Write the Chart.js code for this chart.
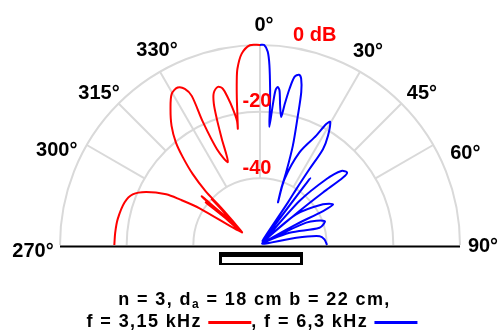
<!DOCTYPE html>
<html>
<head>
<meta charset="utf-8">
<script src="https://cdn.jsdelivr.net/npm/chart.js@4.4.0/dist/chart.umd.min.js"></script>
<style>
  html, body { margin: 0; padding: 0; background: #fff; }
  #wrap { position: relative; width: 501px; height: 330px; }
</style>
</head>
<body>
<div id="wrap"><canvas id="polar" width="501" height="330"></canvas></div>
<script>
// 3.15 kHz pattern, left half (0 -> 270 deg), level in dB
const redAngle = [0, 357.1, 354.5, 352.7, 351.9, 351.0, 350.2, 349.2, 349.5, 348.7,
  347.7, 346.6, 345.1, 343.1, 341.9, 341.1, 340.2, 338.8, 335.8, 335.1,
  335.4, 334.3, 332.4, 329.7, 326.7, 323.4, 320.7, 318.7, 316.5, 314.7,
  313.9, 304.8, 309.9, 310.0, 313.5, 309.1, 308.2, 304.8, 301.3, 299.6,
  298.4, 295.0, 291.7, 287.4, 280.2, 274.8, 270.0];
const redLevel = [0, 0, -2.4, -6.7, -10.5, -15.6, -20.1, -24.5, -22.1, -18.3,
  -14.8, -11.8, -10.9, -12.3, -15.4, -20.0, -26.2, -33.3, -28.4, -19.3,
  -10.8, -8.0, -6.7, -7.5, -11.1, -15.5, -20.1, -24.9, -30.7, -37.1,
  -43.3, -53.4, -37.2, -49.0, -40.1, -50.7, -39.3, -53.4, -38.8, -32.3,
  -28.0, -22.3, -18.9, -17.4, -16.6, -16.4, -16.3];

// 6.3 kHz pattern, right half (0 -> 90 deg)
const blueAngle = [0, 1.2, 2.3, 3.0, 3.7, 4.1, 4.5, 5.2, 5.7, 6.4,
  7.2, 8.2, 9.4, 9.9, 10.7, 11.6, 12.9, 13.9, 15.1, 16.3,
  18.3, 19.8, 20.7, 22.9, 20.4, 23.1, 27.2, 28.7, 29.7, 31.9,
  33.3, 33.1, 33.0, 33.3, 32.3, 36.9, 40.0, 41.9, 45.2, 47.7,
  50.2, 50.9, 50.2, 49.3, 46.6, 49.7, 57.1, 60.9, 61.7, 60.3,
  55.0, 64.2, 69.7, 73.8, 67.4, 63.0, 78.7, 81.6, 85.1, 90.0];
const blueLevel = [0, 0, -2.0, -6.0, -13.0, -18.0, -24.5, -18.0, -13.4, -12.3,
  -13.3, -17.7, -21.1, -17.5, -12.3, -8.5, -7.6, -8.6, -12.5, -19.5,
  -28.6, -36.9, -42.1, -46.1, -38.9, -29.8, -23.1, -18.6, -17.5, -21.4,
  -25.6, -32.8, -40.0, -44.8, -58.5, -34.9, -58.5, -42.3, -32.0, -27.0,
  -26.0, -27.9, -35.4, -44.4, -58.8, -45.8, -37.5, -34.9, -38.5, -47.5,
  -59.2, -44.6, -39.3, -41.4, -50.4, -59.2, -48.9, -41.9, -40.6, -39.9];

const ringLevels = [0, -20, -40];
const ringLabels = ['0 dB', '-20', '-40'];
const spokeAngles = [300, 315, 330, 0, 30, 45, 60];
const spokeInner = [-20, -20, -40, -40, -40, -20, -20];
const angleTicks = [270, 300, 315, 330, 0, 30, 45, 60, 90];
const angleLabels = ['270°', '300°', '315°', '330°', '0°', '30°', '45°', '60°', '90°'];
const floorDb = -60;

const W = 501, H = 330;
const CX = 260, CY = 245, R = 200;   // pixel centre and 0 dB radius
const unit = R / (0 - floorDb);       // px per dB

function toXY(angle, level) {
  const r = Math.max(level, floorDb) - floorDb;
  const a = angle * Math.PI / 180;
  return { x: r * Math.sin(a), y: r * Math.cos(a) };
}

function curve(angles, levels) {
  return angles.map((a, i) => toXY(a, levels[i]));
}

const FONT = '"Liberation Sans", Arial, Helvetica, sans-serif';

const polarGrid = {
  id: 'polarGrid',
  beforeDatasetsDraw(chart) {
    const { ctx, scales: { x, y } } = chart;
    const cx = x.getPixelForValue(0), cy = y.getPixelForValue(0);
    const rad = lv => x.getPixelForValue(lv - floorDb) - cx;
    ctx.save();
    ctx.strokeStyle = '#d9d9d9';
    ctx.lineWidth = 2;
    ringLevels.forEach(lv => {
      ctx.beginPath();
      ctx.arc(cx, cy, rad(lv), Math.PI, 2 * Math.PI);
      ctx.stroke();
    });
    spokeAngles.forEach((a, i) => {
      const p0 = toXY(a, spokeInner[i]), p1 = toXY(a, 0);
      ctx.beginPath();
      ctx.moveTo(x.getPixelForValue(p0.x), y.getPixelForValue(p0.y));
      ctx.lineTo(x.getPixelForValue(p1.x), y.getPixelForValue(p1.y));
      ctx.stroke();
    });
    ctx.restore();
  },
  afterDatasetsDraw(chart) {
    const { ctx, scales: { x, y } } = chart;
    const cx = x.getPixelForValue(0), cy = y.getPixelForValue(0);
    const r0 = x.getPixelForValue(-floorDb) - cx;
    ctx.save();
    // base line 270 .. 90
    ctx.strokeStyle = '#000';
    ctx.lineWidth = 2;
    ctx.beginPath();
    ctx.moveTo(cx - r0, cy + 1.5);
    ctx.lineTo(cx + r0, cy + 1.5);
    ctx.stroke();

    // loudspeaker array symbol
    ctx.fillStyle = '#000';
    ctx.fillRect(cx - 41, cy + 7, 84, 13);
    ctx.fillStyle = '#fff';
    ctx.fillRect(cx - 38, cy + 12, 78, 6);

    // angle labels
    const nudge = {
      270: [-5, 6], 300: [-11, 16], 315: [-4, 5], 330: [8, -2], 0: [4, 2],
      30: [-3, -1], 45: [5, 5], 60: [13, 19], 90: [1, 1]
    };
    ctx.font = 'bold 20px ' + FONT;
    ctx.fillStyle = '#000';
    ctx.textAlign = 'center';
    ctx.textBaseline = 'middle';
    angleTicks.forEach((a, i) => {
      const p = toXY(a, 6.6);
      const n = nudge[a];
      ctx.fillText(angleLabels[i], x.getPixelForValue(p.x) + n[0], y.getPixelForValue(p.y) + n[1]);
    });

    // level labels
    ctx.fillStyle = '#f00';
    ringLevels.forEach((lv, i) => {
      const ry = cy - (x.getPixelForValue(lv - floorDb) - cx);
      if (i === 0) {
        ctx.textAlign = 'left';
        ctx.fillText(ringLabels[i], cx + 33, ry - 10);
      } else {
        ctx.textAlign = 'center';
        ctx.fillText(ringLabels[i], cx - 3, ry - 10);
      }
    });

    drawCaption(ctx);
    ctx.restore();
  }
};

function drawCaption(ctx) {
  const big = 'bold 18px ' + FONT;
  const small = 'bold 12px ' + FONT;
  ctx.textAlign = 'left';
  ctx.textBaseline = 'alphabetic';
  ctx.fillStyle = '#000';
  ctx.letterSpacing = '1.4px';

  // first line: array geometry
  const a = 'n = 3, d', s = 'a', b = ' = 18 cm b = 22 cm,';
  ctx.font = big;
  const wa = ctx.measureText(a).width, wb = ctx.measureText(b).width;
  ctx.font = small;
  const ws = ctx.measureText(s).width;
  let px = 254.5 - (wa + ws + wb) / 2;
  const y1 = 305;
  ctx.font = big; ctx.fillText(a, px, y1); px += wa;
  ctx.font = small; ctx.fillText(s, px, y1 + 3); px += ws;
  ctx.font = big; ctx.fillText(b, px, y1);

  // second line: frequencies with line keys
  const y2 = 327;
  const t1 = 'f = 3,15 kHz ', t2 = ', f = 6,3 kHz ';
  const key = 43;
  ctx.font = big;
  const w1 = ctx.measureText(t1).width, w2 = ctx.measureText(t2).width;
  px = 252 - (w1 + key + w2 + key) / 2;
  ctx.fillText(t1, px, y2); px += w1;
  ctx.fillStyle = '#f00';
  ctx.fillRect(px, y2 - 6, key, 3); px += key;
  ctx.fillStyle = '#000';
  ctx.fillText(t2, px, y2); px += w2;
  ctx.fillStyle = '#00f';
  ctx.fillRect(px, y2 - 6, key, 3);
}

new Chart(document.getElementById('polar'), {
  type: 'scatter',
  data: {
    datasets: [
      { label: 'f = 3,15 kHz', data: curve(redAngle, redLevel), borderColor: '#ff0000' },
      { label: 'f = 6,3 kHz', data: curve(blueAngle, blueLevel), borderColor: '#0000ff' }
    ]
  },
  options: {
    responsive: false,
    animation: false,
    devicePixelRatio: 1,
    layout: { padding: 0 },
    datasets: {
      scatter: { showLine: true, pointRadius: 0, borderWidth: 2, fill: false, tension: 0.3 }
    },
    plugins: { legend: { display: false }, tooltip: { enabled: false } },
    scales: {
      x: { type: 'linear', display: false, min: -CX / unit, max: (W - CX) / unit },
      y: { type: 'linear', display: false, min: -(H - CY) / unit, max: CY / unit }
    }
  },
  plugins: [polarGrid]
});
</script>
</body>
</html>
